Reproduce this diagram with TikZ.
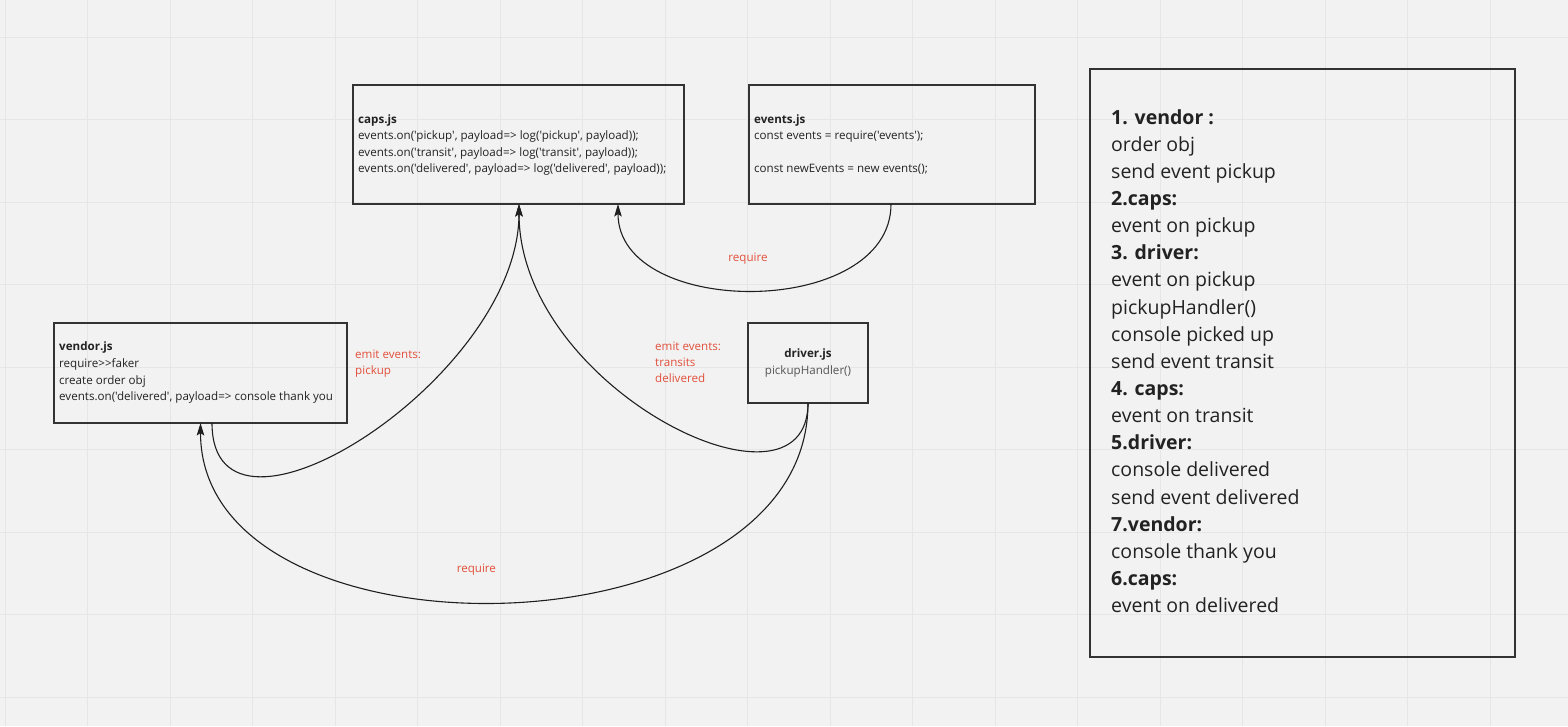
\documentclass[tikz,border=0pt]{standalone}
\usepackage{fontspec}
\setmainfont{Open Sans}[Ligatures=TeXOff]
\usetikzlibrary{arrows.meta}
\definecolor{bg}{HTML}{F2F2F2}
\definecolor{gridc}{HTML}{E6E6E6}
\definecolor{boxc}{HTML}{333333}
\definecolor{redc}{HTML}{E2503B}
\definecolor{txt}{HTML}{222222}
\definecolor{graytxt}{HTML}{555555}
\begin{document}
\begin{tikzpicture}[x=1pt,y=-1pt,
  box/.style={draw=boxc,line width=2pt,inner sep=0pt,outer sep=0pt,anchor=north west},
  small/.style={font=\fontsize{11.6}{14}\selectfont,text=txt,anchor=base west,inner sep=0pt},
  big/.style={font=\fontsize{19.5}{24}\selectfont,text=txt,anchor=base west,inner sep=0pt},
  lbl/.style={small,text=redc},
  conn/.style={draw=black!88,line width=1.1pt,-{Stealth[length=12.5pt,width=7.5pt,inset=2.5pt]}}]
\useasboundingbox (0,0) rectangle (1568,726);
\fill[bg] (0,0) rectangle (1568,726);
\foreach \gx in {0,...,18} \draw[gridc,line width=1pt] (5+82.5*\gx,0) -- (5+82.5*\gx,726);
\foreach \gy in {0,...,8} \draw[gridc,line width=1pt] (0,37+82.5*\gy) -- (1568,37+82.5*\gy);

% boxes
\node[box,minimum width=331pt,minimum height=119pt] (caps) at (353,85) {};
\node[box,minimum width=286pt,minimum height=119pt] (events) at (749,85) {};
\node[box,minimum width=293pt,minimum height=100pt] (vendor) at (54,323) {};
\node[box,minimum width=120pt,minimum height=80pt] (driver) at (748,323) {};
\node[box,minimum width=425pt,minimum height=588pt] (panel) at (1090,69) {};

% caps text
\foreach \t [count=\i from 0] in {{\textbf{caps.js}},
  {events.on('pickup', payload=> log('pickup', payload));},
  {events.on('transit', payload=> log('transit', payload));},
  {events.on('delivered', payload=> log('delivered', payload));}}
  \node[small] (capsL\i) at ([shift={(5,38+16.5*\i)}]caps.north west) {\t};

% events text
\node[small] (evL0) at ([shift={(5,38)}]events.north west) {\textbf{events.js}};
\node[small] (evL1) at ([shift={(5,54.5)}]events.north west) {const events = require('events');};
\node[small] (evL2) at ([shift={(5,87.5)}]events.north west) {const newEvents = new events();};

% vendor text
\foreach \t [count=\i from 0] in {{\textbf{vendor.js}},
  {require>>faker},
  {create order obj},
  {events.on('delivered', payload=> console thank you}}
  \node[small] (venL\i) at ([shift={(5,27.7+16.7*\i)}]vendor.north west) {\t};

% driver text
\node[small,anchor=base] (drvL0) at ([shift={(0,34.7)}]driver.north) {\textbf{driver.js}};
\node[small,anchor=base,text=graytxt] (drvL1) at ([shift={(0,51)}]driver.north) {pickupHandler()};

% panel text
\foreach \t [count=\i from 0] in {{\textbf{1. vendor :}},
  {order obj},
  {send event pickup},
  {\textbf{2.caps:}},
  {event on pickup},
  {\textbf{3. driver:}},
  {event on pickup},
  {pickupHandler()},
  {console picked up},
  {send event transit},
  {\textbf{4. caps:}},
  {event on transit},
  {\textbf{5.driver:}},
  {console delivered},
  {send event delivered},
  {\textbf{7.vendor:}},
  {console thank you},
  {\textbf{6.caps:}},
  {event on delivered}}
  \node[big] (panL\i) at ([shift={(21,55+27.15*\i)}]panel.north west) {\t};

% connectors
\draw[conn] ([xshift=158pt]vendor.south west) .. controls +(0,150) and +(0,175) .. ([xshift=166pt]caps.south west);
\draw[conn] (driver.south) .. controls +(0,127) and +(0,185) .. ([xshift=166pt]caps.south west);
\draw[conn] (driver.south) .. controls +(0,257) and +(0,247) .. ([xshift=146.5pt]vendor.south west);
\draw[conn] ([xshift=142pt]events.south west) .. controls +(0,115) and +(0,115) .. ([xshift=265pt]caps.south west);

% connector labels
\node[lbl] (e1a) at (355,358.3) {emit events:};
\node[lbl] (e1b) at (355,374.3) {pickup};
\node[lbl] (e2a) at (655,350.7) {emit events:};
\node[lbl] (e2b) at (655,366.7) {transits};
\node[lbl] (e2c) at (655,382.7) {delivered};
\node[lbl,anchor=base] (r1) at (748,261.7) {require};
\node[lbl,anchor=base] (r2) at (476.4,572.7) {require};
\end{tikzpicture}
\end{document}
